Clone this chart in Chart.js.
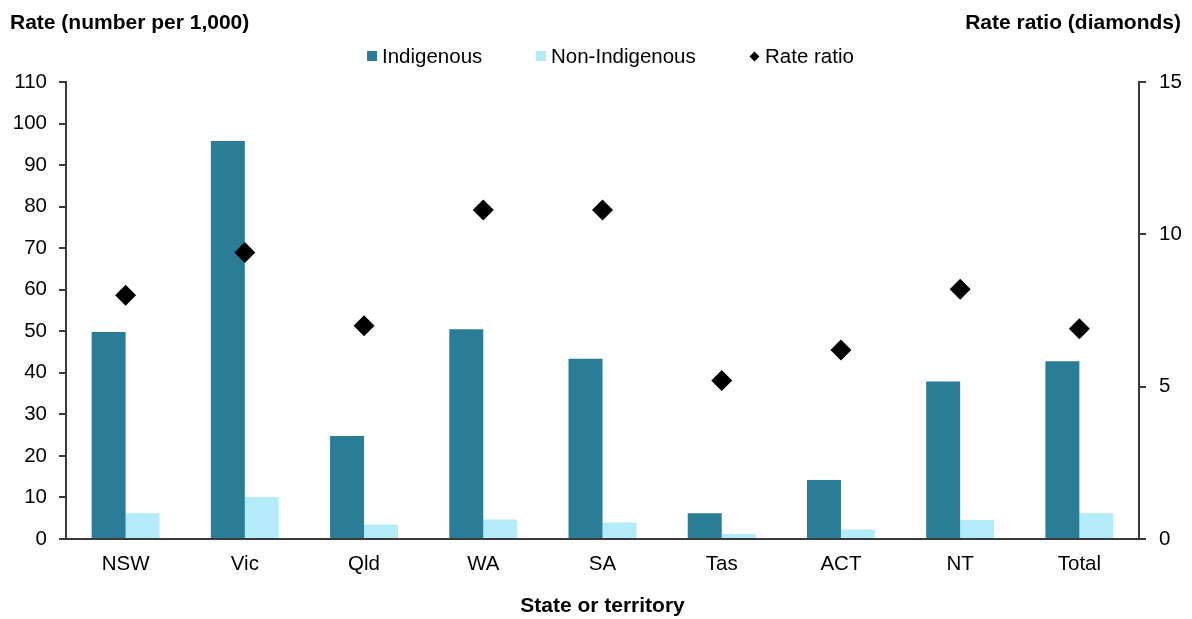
<!DOCTYPE html>
<html>
<head>
<meta charset="utf-8">
<script src="https://cdn.jsdelivr.net/npm/chart.js@4/dist/chart.umd.min.js"></script>
<style>
  html, body { margin: 0; padding: 0; background: #fff; }
  #wrap { position: relative; width: 1192px; height: 619px; font-family: "Liberation Sans", Arial, sans-serif; color: #000; }
  #chart { position: absolute; left: 0; top: 0; }
  .axis-title { position: absolute; top: 11px; font-weight: bold; font-size: 21px; line-height: 21px; white-space: nowrap; }
  #title-left { left: 10px; }
  #title-right { right: 11px; }
  .legend-item { position: absolute; top: 45px; font-size: 20.5px; line-height: 21px; white-space: nowrap; }
  .legend-box { position: absolute; width: 10px; height: 10px; }
  .legend-diamond { position: absolute; width: 7px; height: 7px; background: #000; transform: rotate(45deg); }
</style>
</head>
<body>
<div id="wrap">
  <canvas id="chart" width="1192" height="619"></canvas>
  <div class="axis-title" id="title-left">Rate (number per 1,000)</div>
  <div class="axis-title" id="title-right">Rate ratio (diamonds)</div>
  <div id="legend"></div>
</div>
<script>
// States and territories along the x axis
const categories = ['NSW', 'Vic', 'Qld', 'WA', 'SA', 'Tas', 'ACT', 'NT', 'Total'];

// Rate per 1,000 (left axis)
const indigenousRate = [49.8, 95.8, 24.8, 50.5, 43.4, 6.2, 14.2, 37.9, 42.8];
const nonIndigenousRate = [6.2, 10.1, 3.5, 4.7, 4.0, 1.2, 2.3, 4.6, 6.2];

// Indigenous : non-Indigenous rate ratio (right axis)
const rateRatio = [8.0, 9.4, 7.0, 10.8, 10.8, 5.2, 6.2, 8.2, 6.9];

// Axis ranges
const leftAxisMax = 110;
const leftAxisStep = 10;
const rightAxisMax = 15;
const rightAxisStep = 5;

const seriesNames = ['Indigenous', 'Non-Indigenous', 'Rate ratio'];
const colours = { indigenous: '#2a7d96', nonIndigenous: '#b3ebf9', ratio: '#000000' };

const FONT = '"Liberation Sans", Arial, sans-serif';
const AXIS_COLOUR = '#3a3a3a';

// Legend row above the plot
(function buildLegend() {
  const legend = document.getElementById('legend');
  const items = [
    { name: seriesNames[0], kind: 'box', colour: colours.indigenous, markX: 366.5, textX: 382 },
    { name: seriesNames[1], kind: 'box', colour: colours.nonIndigenous, markX: 535.5, textX: 551 },
    { name: seriesNames[2], kind: 'diamond', colour: colours.ratio, markX: 750.5, textX: 765 }
  ];
  items.forEach(it => {
    const mark = document.createElement('div');
    if (it.kind === 'box') {
      mark.className = 'legend-box';
      mark.style.left = it.markX + 'px';
      mark.style.top = '51px';
      mark.style.background = it.colour;
    } else {
      mark.className = 'legend-diamond';
      mark.style.left = it.markX + 'px';
      mark.style.top = '52.5px';
    }
    legend.appendChild(mark);
    const label = document.createElement('div');
    label.className = 'legend-item';
    label.style.left = it.textX + 'px';
    label.textContent = it.name;
    legend.appendChild(label);
  });
})();

new Chart(document.getElementById('chart'), {
  type: 'bar',
  data: {
    labels: categories,
    datasets: [
      {
        label: seriesNames[2],
        type: 'line',
        data: rateRatio,
        yAxisID: 'y1',
        showLine: false,
        pointStyle: 'rectRot',
        pointRadius: 10.5,
        pointHoverRadius: 10.5,
        pointBackgroundColor: colours.ratio,
        pointBorderColor: colours.ratio,
        pointBorderWidth: 0,
        order: 0
      },
      {
        label: seriesNames[0],
        data: indigenousRate,
        backgroundColor: colours.indigenous,
        yAxisID: 'y',
        barPercentage: 1.0,
        categoryPercentage: 0.57,
        order: 1
      },
      {
        label: seriesNames[1],
        data: nonIndigenousRate,
        backgroundColor: colours.nonIndigenous,
        yAxisID: 'y',
        barPercentage: 1.0,
        categoryPercentage: 0.57,
        order: 1
      }
    ]
  },
  options: {
    responsive: false,
    animation: false,
    events: [],
    layout: { padding: { top: 82, right: 0, bottom: 0, left: 0 } },
    plugins: {
      legend: { display: false },
      tooltip: { enabled: false },
      title: { display: false }
    },
    scales: {
      x: {
        grid: { display: false, drawTicks: false },
        border: { display: true, color: AXIS_COLOUR, width: 2 },
        ticks: { color: '#000', font: { family: FONT, size: 20.5 }, padding: 13, maxRotation: 0 },
        title: {
          display: true,
          text: 'State or territory',
          color: '#000',
          font: { family: FONT, size: 21, weight: 'bold' },
          padding: { top: 0, bottom: 0 }
        },
        afterFit: s => { s.height = 80; }
      },
      y: {
        position: 'left',
        min: 0,
        max: leftAxisMax,
        ticks: { stepSize: leftAxisStep, color: '#000', font: { family: FONT, size: 20.5 }, padding: 12 },
        grid: { drawOnChartArea: false, drawTicks: true, tickLength: 7, color: AXIS_COLOUR, lineWidth: 2 },
        border: { display: true, color: AXIS_COLOUR, width: 2 },
        afterFit: s => { s.width = 66; }
      },
      y1: {
        position: 'right',
        min: 0,
        max: rightAxisMax,
        ticks: { stepSize: rightAxisStep, color: '#000', font: { family: FONT, size: 20.5 }, padding: 13 },
        grid: { drawOnChartArea: false, drawTicks: true, tickLength: 7, color: AXIS_COLOUR, lineWidth: 2 },
        border: { display: true, color: AXIS_COLOUR, width: 2 },
        afterFit: s => { s.width = 53; }
      }
    }
  }
});
</script>
</body>
</html>
